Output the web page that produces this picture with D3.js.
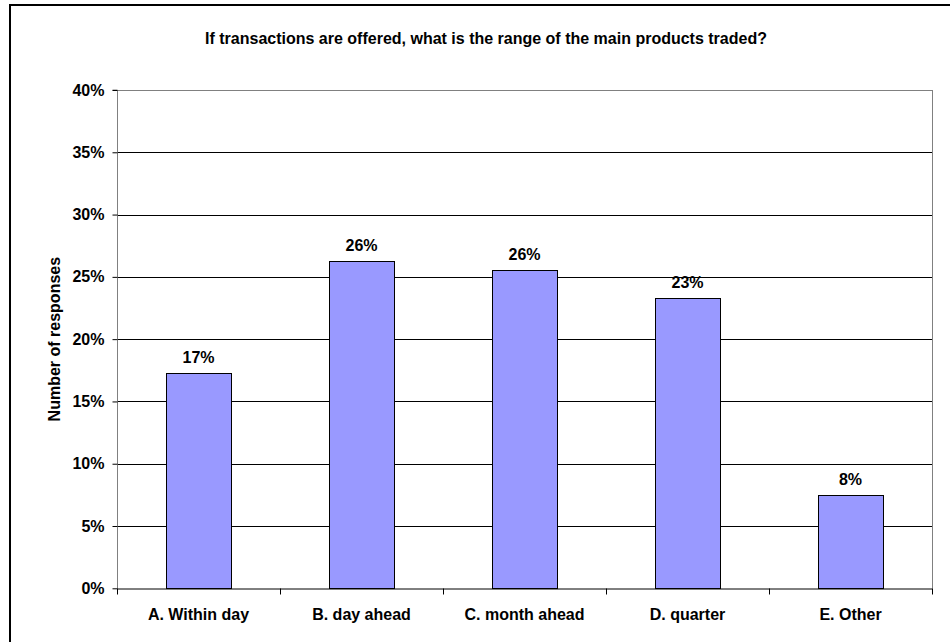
<!DOCTYPE html>
<html><head><meta charset="utf-8">
<script src="https://cdn.jsdelivr.net/npm/d3@7"></script>
<style>body{margin:0;background:#fff}svg{display:block}text{font-family:"Liberation Sans",Arial,sans-serif;font-weight:bold;fill:#000}</style>
</head><body><svg id="c" width="950" height="642"></svg>
<script>
const categories = ["A. Within day","B. day ahead","C. month ahead","D. quarter","E. Other"];
const values = [17.26, 26.29, 25.55, 23.27, 7.52];
const yTicks = [0,5,10,15,20,25,30,35,40];
const title = "If transactions are offered, what is the range of the main products traded?";
const yTitle = "Number of responses";

const svg = d3.select("#c");
const m = {l:117, r:932, t:90, b:588.3};
svg.append("rect").attr("x",10).attr("y",5).attr("width",950).attr("height",650).attr("fill","none").attr("stroke","#000").attr("stroke-width",2);

const x = d3.scaleBand().domain(categories).range([m.l,m.r]);
const y = d3.scaleLinear().domain([0,40]).range([m.b,m.t]);

// gridlines
svg.append("g").selectAll("line").data(yTicks.filter(d=>d>0)).join("line")
  .attr("x1",m.l).attr("x2",m.r).attr("y1",d=>Math.round(y(d))+0.5).attr("y2",d=>Math.round(y(d))+0.5)
  .attr("stroke",d=>d===40?"#808080":"#000").attr("stroke-width",1);
// plot right border
svg.append("line").attr("x1",m.r+0.5).attr("x2",m.r+0.5).attr("y1",m.t).attr("y2",m.b).attr("stroke","#808080");

// bars
const bw = x.bandwidth()*0.4;
svg.append("g").selectAll("rect").data(values).join("rect")
  .attr("x",(d,i)=>Math.round(x(categories[i])+x.bandwidth()*0.3)+0.5)
  .attr("y",d=>Math.round(y(d))+0.5)
  .attr("width",Math.round(bw))
  .attr("height",d=>Math.round(y(0))-Math.round(y(d)))
  .attr("fill","#9999FF").attr("stroke","#000").attr("stroke-width",1);

// value labels
svg.append("g").selectAll("text").data(values).join("text")
  .attr("x",(d,i)=>x(categories[i])+x.bandwidth()/2)
  .attr("y",d=>y(d)-10)
  .attr("text-anchor","middle").attr("font-size",16)
  .text(d=>Math.round(d)+"%");

// y axis
const ya = d3.axisLeft(y).tickValues(yTicks).tickFormat(d=>d+"%").tickSize(5).tickPadding(8);
const gy = svg.append("g").attr("transform",`translate(${m.l+0.5},0)`).call(ya);
gy.select(".domain").attr("stroke","#808080").attr("d",`M-5,${m.t}H0V${m.b}`);
gy.selectAll(".tick line").attr("stroke","#000");
gy.selectAll("text").attr("font-size",16).attr("font-family","Liberation Sans, Arial, sans-serif").attr("font-weight","bold").attr("fill","#000");

// x axis
const xa = d3.axisBottom(x).tickSize(0).tickPadding(20);
const gx = svg.append("g").attr("transform",`translate(0,${Math.round(m.b)+0.5})`).call(xa);
gx.select(".domain").attr("stroke","#000");
gx.selectAll("text").attr("font-size",16).attr("font-family","Liberation Sans, Arial, sans-serif").attr("font-weight","bold").attr("fill","#000");
// boundary ticks
const bounds = categories.map(c=>x(c)).concat([m.r]);
gx.append("g").selectAll("line").data(bounds).join("line")
  .attr("x1",d=>Math.round(d)+0.5).attr("x2",d=>Math.round(d)+0.5).attr("y1",0).attr("y2",6).attr("stroke","#000");

// titles
svg.append("text").attr("x",486).attr("y",44).attr("text-anchor","middle").attr("font-size",16).text(title);
svg.append("text").attr("transform",`translate(60,${(m.t+m.b)/2}) rotate(-90)`).attr("text-anchor","middle").attr("font-size",16).text(yTitle);
</script></body></html>
